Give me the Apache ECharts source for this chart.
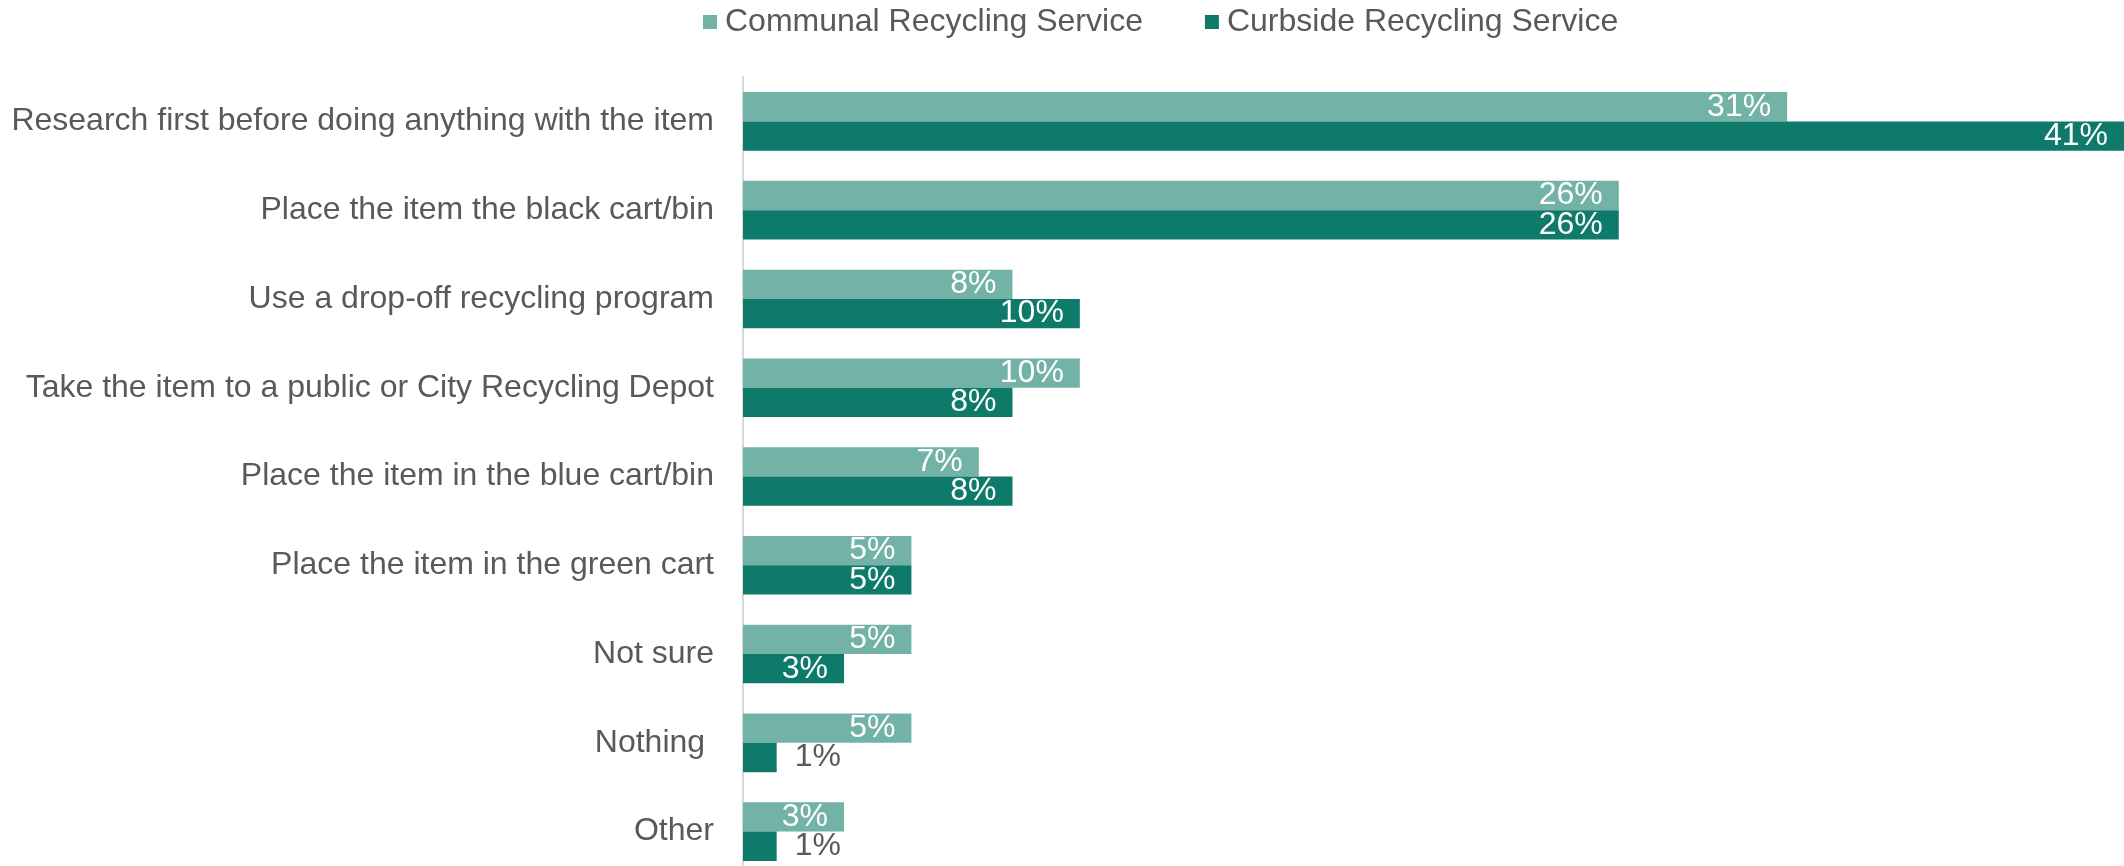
<!DOCTYPE html>
<html>
<head>
<meta charset="utf-8">
<script src="https://cdn.jsdelivr.net/npm/echarts@6/dist/echarts.min.js"></script>
<style>
  html, body { margin: 0; padding: 0; background: #fff; overflow: hidden; }
  /* the last bar row runs to the bottom edge of the view, so the canvas is a bit taller */
  #chart { width: 2124px; height: 900px; }
</style>
</head>
<body>
<div id="chart"></div>
<script>
// Survey responses: what households do with an item they are unsure about
const categories = [
  'Research first before doing anything with the item',
  'Place the item the black cart/bin',
  'Use a drop-off recycling program',
  'Take the item to a public or City Recycling Depot',
  'Place the item in the blue cart/bin',
  'Place the item in the green cart',
  'Not sure',
  'Nothing ',
  'Other'
];
const seriesNames = ['Communal Recycling Service', 'Curbside Recycling Service'];
const communal = [31, 26, 8, 10, 7, 5, 5, 5, 3];
const curbside = [41, 26, 10, 8, 8, 5, 3, 1, 1];

const colors = ['#73B2A7', '#0E7A6A'];
const textGrey = '#595959';
const fontFamily = '"Liberation Sans", Arial, sans-serif';

// Bars too short to hold their value get the label outside, in grey
function toItems(values) {
  return values.map(v => {
    if (v < 2) {
      return {
        value: v,
        label: { position: 'right', color: textGrey, distance: 18 }
      };
    }
    return { value: v };
  });
}

const chart = echarts.init(document.getElementById('chart'), null, { renderer: 'canvas' });

const labelBase = {
  show: true,
  position: 'insideRight',
  distance: 16,
  color: '#ffffff',
  fontSize: 32,
  fontFamily: fontFamily,
  formatter: p => p.value + '%'
};

chart.setOption({
  animation: false,
  textStyle: { fontFamily: fontFamily },
  legend: {
    data: seriesNames,
    top: 1,
    left: 698,
    itemWidth: 14,
    itemHeight: 14,
    itemGap: 62,
    icon: 'rect',
    textStyle: { fontSize: 32, color: textGrey, fontFamily: fontFamily, padding: [0, 0, 0, 3] }
  },
  grid: {
    left: 743,
    right: -6,
    top: 77,
    height: 799,
    containLabel: false
  },
  xAxis: {
    type: 'value',
    min: 0,
    max: 41,
    show: false,
    splitLine: { show: false }
  },
  yAxis: {
    type: 'category',
    data: categories,
    inverse: true,
    axisLine: { show: true, lineStyle: { color: '#d9d9d9', width: 2 } },
    axisTick: { show: false },
    axisLabel: {
      fontSize: 32,
      color: textGrey,
      fontFamily: fontFamily,
      margin: 29
    }
  },
  series: [
    {
      name: seriesNames[0],
      type: 'bar',
      data: toItems(communal),
      itemStyle: { color: colors[0] },
      barGap: '0%',
      barCategoryGap: '34%',
      label: labelBase
    },
    {
      name: seriesNames[1],
      type: 'bar',
      data: toItems(curbside),
      itemStyle: { color: colors[1] },
      barGap: '0%',
      barCategoryGap: '34%',
      label: labelBase
    }
  ]
});
</script>
</body>
</html>
